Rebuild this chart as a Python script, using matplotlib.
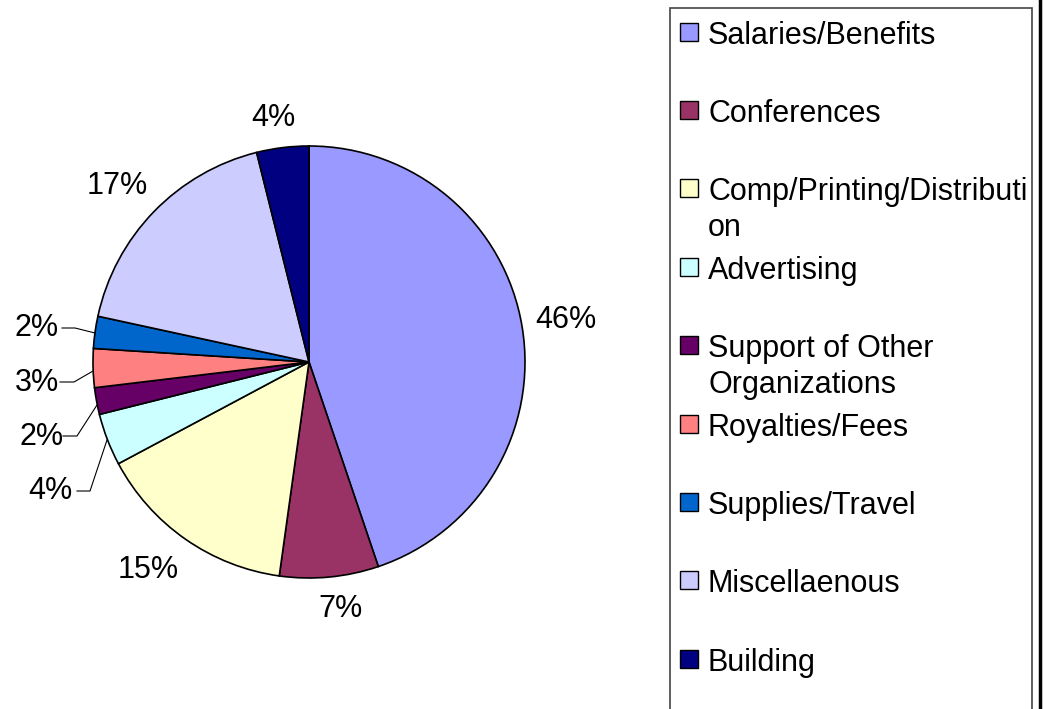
import matplotlib
matplotlib.use("Agg")
import matplotlib.pyplot as plt
from matplotlib.patches import Rectangle
from matplotlib.lines import Line2D

categories = ["Salaries/Benefits", "Conferences", "Comp/Printing/Distribution",
              "Advertising", "Support of Other Organizations", "Royalties/Fees",
              "Supplies/Travel", "Miscellaenous", "Building"]
legend_labels = ["Salaries/Benefits", "Conferences", "Comp/Printing/Distributi\non",
                 "Advertising", "Support of Other\nOrganizations", "Royalties/Fees",
                 "Supplies/Travel", "Miscellaenous", "Building"]
# slice shares as read from the drawn wedges
values = [44.8, 7.4, 15.0, 3.9, 2.0, 2.9, 2.4, 17.7, 3.9]
# data labels as printed on the chart
pct_labels = ["46%", "7%", "15%", "4%", "2%", "3%", "2%", "17%", "4%"]
colors = ["#9999FF", "#993366", "#FFFFCC", "#CCFFFF", "#660066",
          "#FF8080", "#0066CC", "#CCCCFF", "#000080"]

W, H = 1043, 709
fig = plt.figure(figsize=(W / 100, H / 100), dpi=100)
ax = fig.add_axes([0, 0, 1, 1])
ax.set_xlim(0, W)
ax.set_ylim(0, H)
ax.set_aspect("equal")
ax.axis("off")

def Y(y):
    return H - y

cx, cy, r = 309, 362, 216
ax.pie(values, colors=colors, startangle=90, counterclock=False,
       center=(cx, Y(cy)), radius=r,
       wedgeprops=dict(edgecolor="black", linewidth=1.2))
ax.set_xlim(0, W)
ax.set_ylim(0, H)

fs = 22
font = "Liberation Sans"
# label positions (pixel coords of text centers)
label_pos = [(566, 320), (340, 609), (148, 570), (50, 491), (42, 437),
             (37, 383), (37, 328), (117, 186), (273, 118)]
for lab, (x, y) in zip(pct_labels, label_pos):
    ax.text(x, Y(y), lab, ha="center", va="center", fontsize=fs,
            family=font, color="black")

# leader lines for small slices
leaders = [
    [(77, 491), (90, 491), (107, 440)],
    [(63, 436), (77, 436), (97, 405)],
    [(60, 382), (74, 382), (93, 371)],
    [(62, 328), (75, 328), (95, 333)],
]
for pts in leaders:
    xs = [p[0] for p in pts]
    ys = [Y(p[1]) for p in pts]
    ax.add_line(Line2D(xs, ys, color="black", linewidth=0.8))

# legend box
ax.add_patch(Rectangle((670, Y(720)), 1032 - 670, 720 - 8, facecolor="white",
                       edgecolor="#444444", linewidth=1.2, zorder=1))
legend_y = [32, 110, 188, 267, 345, 424, 502, 580, 659]
for lab, c, y in zip(legend_labels, colors, legend_y):
    ax.add_patch(Rectangle((680, Y(y) - 9), 18, 18, facecolor=c,
                           edgecolor="black", linewidth=1, zorder=2))
    ax.text(708, Y(y) + 11, lab, ha="left", va="top", fontsize=fs,
            family=font, color="black", linespacing=1.27, zorder=3)

# right border line
ax.add_line(Line2D([1040, 1040], [0, H], color="black", linewidth=2.5))

fig.savefig("out.png", dpi=100, facecolor="white")
